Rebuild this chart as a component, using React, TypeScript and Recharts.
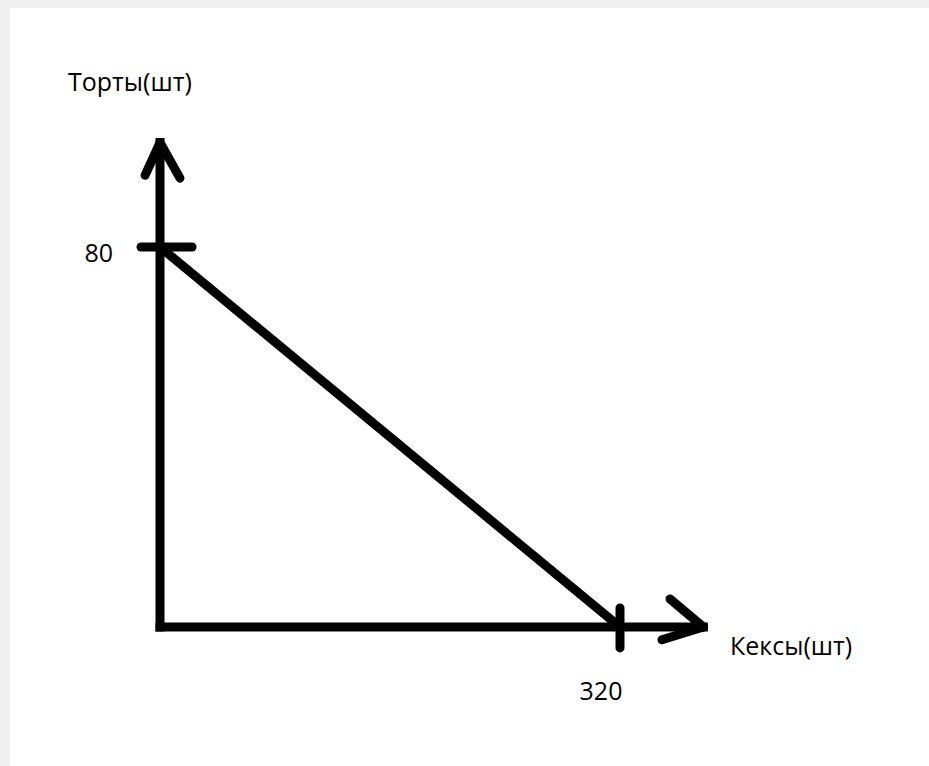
import React from "react";
import { LineChart, Line, XAxis, YAxis, ReferenceLine, Label } from "recharts";

// Data: production possibilities — muffins (x) vs cakes (y)
const muffins = [0, 320];
const cakes = [80, 0];
const xTicks = [320];
const yTicks = [80];
const xAxisTitle = "Кексы(шт)";
const yAxisTitle = "Торты(шт)";

const data = muffins.map((m, i) => ({ muffins: m, cakes: cakes[i] }));

const FONT = "'Open Sans', 'Noto Sans', sans-serif";
const INK = "#000";
const FS = 25;

// axis decorations in data units
const yTip = { x: 0, y: 102 };
const xTip = { x: 378, y: 0 };

const XTick = (props: any) => {
  const { x, y, payload } = props;
  return (
    <text x={x - 19} y={y + 73} textAnchor="middle" fontFamily={FONT} fontSize={FS} fill={INK}>
      {payload.value}
    </text>
  );
};

const YTick = (props: any) => {
  const { x, y, payload } = props;
  return (
    <text x={x} y={y + 15} textAnchor="end" fontFamily={FONT} fontSize={FS} fill={INK}>
      {payload.value}
    </text>
  );
};

const seg = (a: any, b: any, key: string, cap: "round" | "square" = "round", w = 9) => (
  <ReferenceLine
    key={key}
    segment={[a, b]}
    stroke={INK}
    strokeWidth={w}
    strokeLinecap={cap}
    ifOverflow="visible"
  />
);

export default function App() {
  return (
    <div style={{ position: "relative", width: 929, height: 766, background: "#efefef", overflow: "hidden" }}>
      <style>{"body{margin:0}"}</style>
      <div style={{ position: "absolute", left: 10, top: 8, right: 0, bottom: 0, background: "#fff" }} />
      <div style={{ position: "absolute", left: 0, top: 0 }}>
        <LineChart width={929} height={766} data={data} margin={{ top: 152, right: 194, bottom: 109, left: 100 }}>
          <XAxis
            type="number"
            dataKey="muffins"
            domain={[0, 400]}
            ticks={xTicks}
            axisLine={false}
            tickLine={false}
            tickSize={0}
            tickMargin={0}
            height={30}
            tick={<XTick />}
            interval={0}
          >
            <Label
              content={(p: any) => {
                const vb = p.viewBox;
                return (
                  <text x={vb.x + vb.width - 5} y={vb.y + 28} fontFamily={FONT} fontSize={FS} fill={INK}>
                    {xAxisTitle}
                  </text>
                );
              }}
            />
          </XAxis>
          <YAxis
            type="number"
            domain={[0, 100]}
            ticks={yTicks}
            axisLine={false}
            tickLine={false}
            tickSize={0}
            tickMargin={47}
            width={60}
            tick={<YTick />}
            interval={0}
          >
            <Label
              content={(p: any) => {
                const vb = p.viewBox;
                return (
                  <text x={vb.x - 32} y={vb.y - 61} fontFamily={FONT} fontSize={FS} fill={INK}>
                    {yAxisTitle}
                  </text>
                );
              }}
            />
          </YAxis>
          {seg({ x: 0, y: 0 }, yTip, "yaxis", "square")}
          {seg({ x: 0, y: 0 }, xTip, "xaxis", "square")}
          {seg(yTip, { x: -10.4, y: 95.1 }, "ya1")}
          {seg(yTip, { x: 13.9, y: 94.5 }, "ya2")}
          {seg(xTip, { x: 354.8, y: 5.9 }, "xa1")}
          {seg(xTip, { x: 349.2, y: -2.7 }, "xa2")}
          {seg({ x: -13.2, y: 80 }, { x: 22.3, y: 80 }, "ytick")}
          {seg({ x: 320, y: 4.0 }, { x: 320, y: -4.4 }, "xtick")}
          <Line
            type="linear"
            dataKey="cakes"
            stroke={INK}
            strokeWidth={9}
            strokeLinecap="round"
            dot={false}
            activeDot={false}
            isAnimationActive={false}
          />
        </LineChart>
      </div>
    </div>
  );
}
